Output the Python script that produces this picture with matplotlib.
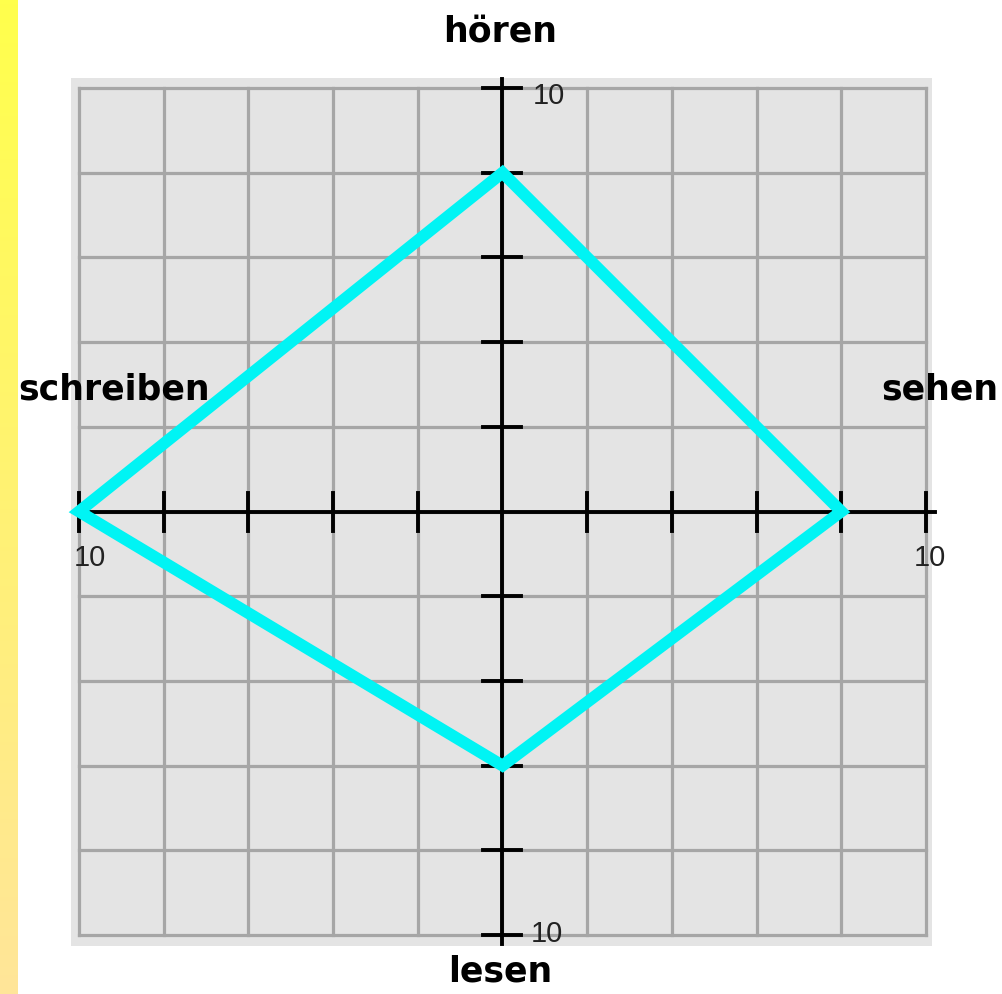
import numpy as np
import matplotlib
matplotlib.use("Agg")
import matplotlib.pyplot as plt
from matplotlib.patches import Polygon, Rectangle

# ---- data ----
skills = ["hören", "sehen", "lesen", "schreiben"]
values = [8, 8, 6, 10]
directions = [(0, 1), (1, 0), (0, -1), (-1, 0)]   # top, right, bottom, left
axis_max = 10
tick_step = 2
tick_labels = ["10", "10", "10", "10"]  # top, right, bottom, left

W, H = 1003, 994
fig = plt.figure(figsize=(W / 100, H / 100), dpi=100)
fig.patch.set_facecolor("white")

# yellow gradient strip on the left
sax = fig.add_axes([0, 0, 18 / W, 1])
grad = np.linspace(0, 1, 256).reshape(-1, 1)
top = np.array([1.0, 1.0, 0.30])
bot = np.array([1.0, 0.90, 0.60])
img = top[None, None, :] * (1 - grad[:, :, None]) + bot[None, None, :] * grad[:, :, None]
sax.imshow(img, aspect="auto", extent=[0, 1, 0, 1])
sax.set_axis_off()

# main axes: data -10..10 mapped to the grid
x0, x1 = 79, 926
y0, y1 = 88, 935
ax = fig.add_axes([x0 / W, (H - y1) / H, (x1 - x0) / W, (y1 - y0) / H])
ax.set_xlim(-axis_max, axis_max)
ax.set_ylim(-axis_max, axis_max)
ax.set_axis_off()

px = 1.0 / 42.35  # one pixel in data units
# panel background
ax.add_patch(Rectangle((-axis_max - 8 * px, -axis_max - 11 * px),
                       2 * axis_max + 14 * px, 2 * axis_max + 21 * px,
                       facecolor="#e4e4e4", edgecolor="none", zorder=0, clip_on=False))

grid_pos = np.arange(-axis_max, axis_max + 0.001, tick_step)
for g in grid_pos:
    ax.plot([g, g], [-axis_max, axis_max], color="#a6a6a6", lw=2.3, zorder=1,
            solid_capstyle="projecting", clip_on=False)
    ax.plot([-axis_max, axis_max], [g, g], color="#a6a6a6", lw=2.3, zorder=1,
            solid_capstyle="projecting", clip_on=False)

# axes lines
ext = 9 * px
ax.plot([-axis_max, axis_max + ext], [0, 0], color="black", lw=2.8, zorder=2, clip_on=False)
ax.plot([0, 0], [-axis_max - ext, axis_max + ext], color="black", lw=2.8, zorder=2, clip_on=False)
tl = 19 * px
for g in grid_pos:
    if g == 0:
        continue
    ax.plot([g, g], [-tl, tl], color="black", lw=2.8, zorder=2, clip_on=False)
    ax.plot([-tl, tl], [g, g], color="black", lw=2.8, zorder=2, clip_on=False)

# tick labels
tfont = dict(family="Liberation Sans", fontsize=21, color="#222222", zorder=3)
ax.text(30 * px, axis_max - 8 * px, tick_labels[0], ha="left", va="center", **tfont)
ax.text(axis_max + 4 * px, -47 * px, tick_labels[1], ha="center", va="center", **tfont)
ax.text(28 * px, -axis_max + 1 * px, tick_labels[2], ha="left", va="center", **tfont)
ax.text(-axis_max + 11 * px, -47 * px, tick_labels[3], ha="center", va="center", **tfont)

# skill labels
lfont = dict(family="DejaVu Sans", fontweight="bold", fontsize=25, color="black", zorder=3)
ax.text(-2 * px, axis_max + 57 * px, skills[0], ha="center", va="center", **lfont)
ax.text(axis_max + 72 * px, 122 * px, skills[1], ha="right", va="center", **lfont)
ax.text(-2 * px, -axis_max - 37 * px, skills[2], ha="center", va="center", **lfont)
ax.text(-axis_max - 61 * px, 122 * px, skills[3], ha="left", va="center", **lfont)

# the diamond
pts = [(v * d[0], v * d[1]) for v, d in zip(values, directions)]
ax.add_patch(Polygon(pts, closed=True, fill=False, edgecolor="#00f4f4", lw=8.5,
                     joinstyle="miter", zorder=4, clip_on=False))

fig.savefig("out.png", dpi=100)
